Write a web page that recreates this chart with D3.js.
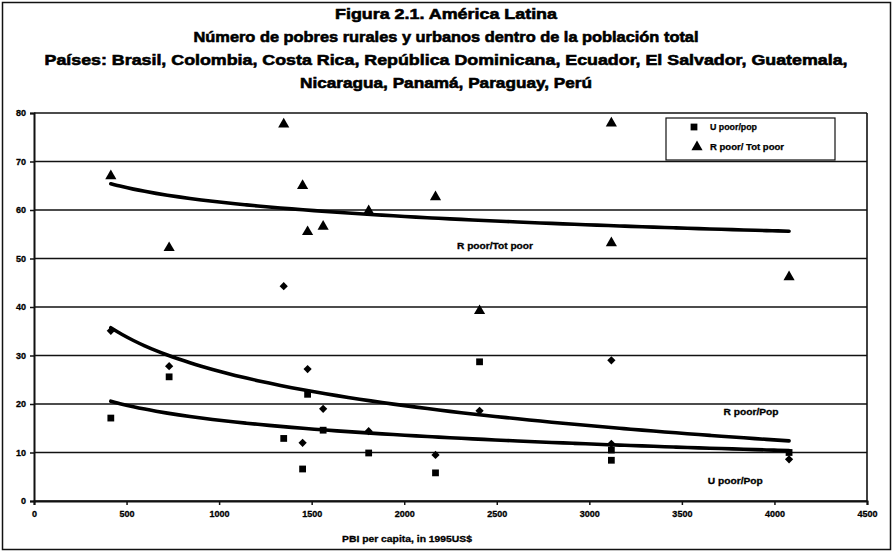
<!DOCTYPE html>
<html>
<head>
<meta charset="utf-8">
<script src="https://cdn.jsdelivr.net/npm/d3@7"></script>
<style>
  body { margin: 0; background: #fff; }
  svg { display: block; font-family: "Liberation Sans", Arial, Helvetica, sans-serif; }
</style>
</head>
<body>
<svg id="chart" width="892" height="551"></svg>
<script>
// Title block
const titleLines = [
  "Figura 2.1. América Latina",
  "Número de pobres rurales y urbanos dentro de la población total",
  "Países: Brasil, Colombia, Costa Rica, República Dominicana, Ecuador, El Salvador, Guatemala,",
  "Nicaragua, Panamá, Paraguay, Perú"
];
const titleWidths = [222, 505, 803, 292];

// GDP per capita (1995 US$) for each country observation
const gdp = [415, 730, 1349, 1451, 1478, 1562, 1808, 2169, 2407, 3119, 3119, 4079];
// Rural poor as % of total poor
const ruralPoorShare = [67.0, 52.2, 77.7, 65.0, 55.5, 56.6, 59.8, 62.7, 39.2, 77.9, 53.2, 46.2];
// Rural poor as % of population
const ruralPoorPop = [35.1, 27.8, 44.3, 12.0, 27.2, 19.0, 14.4, 9.5, 18.6, 29.0, 11.8, 8.6];
// Urban poor as % of population
const urbanPoorPop = [17.1, 25.6, 12.9, 6.6, 22.0, 14.6, 9.9, 5.8, 28.7, 8.4, 10.5, 10.0];

const xTicks = [0, 500, 1000, 1500, 2000, 2500, 3000, 3500, 4000, 4500];
const yTicks = [0, 10, 20, 30, 40, 50, 60, 70, 80];

const svg = d3.select("#chart");
const W = 892, H = 551;
const plot = { left: 34, right: 867, top: 113, bottom: 501 };

// outer frame
svg.append("rect")
  .attr("x", 2.5).attr("y", 2.5).attr("width", W - 4).attr("height", H - 4)
  .attr("fill", "none").attr("stroke", "#111").attr("stroke-width", 1.5);

// title
svg.append("g").selectAll("text").data(titleLines).join("text")
  .attr("x", W / 2)
  .attr("y", (d, i) => 19 + i * 23)
  .attr("text-anchor", "middle")
  .attr("font-size", 15)
  .attr("font-weight", "bold")
  .attr("textLength", (d, i) => titleWidths[i])
  .attr("lengthAdjust", "spacingAndGlyphs")
  .attr("fill", "#000").attr("stroke", "#000").attr("stroke-width", 0.6)
  .text(d => d);

const x = d3.scaleLinear().domain([0, 4500]).range([plot.left, plot.right]);
const y = d3.scaleLinear().domain([0, 80]).range([plot.bottom, plot.top]);

// horizontal gridlines
svg.append("g").selectAll("line").data(yTicks).join("line")
  .attr("x1", plot.left).attr("x2", plot.right)
  .attr("y1", d => y(d)).attr("y2", d => y(d))
  .attr("stroke", "#111").attr("stroke-width", 1.6);

// right border of plot area
svg.append("line")
  .attr("x1", plot.right).attr("x2", plot.right)
  .attr("y1", plot.top).attr("y2", plot.bottom)
  .attr("stroke", "#111").attr("stroke-width", 1.6);

// axes
const yAxis = svg.append("g")
  .attr("transform", `translate(${plot.left},0)`)
  .call(d3.axisLeft(y).tickValues(yTicks).tickSize(4).tickPadding(4));
const xAxis = svg.append("g")
  .attr("transform", `translate(0,${plot.bottom})`)
  .call(d3.axisBottom(x).tickValues(xTicks).tickSize(4).tickPadding(6).tickFormat(d3.format("d")));

[yAxis, xAxis].forEach(g => {
  g.select(".domain").attr("stroke", "#111").attr("stroke-width", 2);
  g.selectAll(".tick line").attr("stroke", "#111").attr("stroke-width", 1.5);
  g.selectAll(".tick text")
    .attr("font-size", 9).attr("font-weight", "bold")
    .attr("font-family", "'Liberation Sans', Arial, sans-serif")
    .attr("fill", "#000").attr("stroke", "#000").attr("stroke-width", 0.3);
});

// axis title
svg.append("text")
  .attr("x", 407).attr("y", 542)
  .attr("text-anchor", "middle")
  .attr("font-size", 9).attr("font-weight", "bold")
  .attr("textLength", 130).attr("lengthAdjust", "spacingAndGlyphs")
  .attr("stroke", "#000").attr("stroke-width", 0.3)
  .text("PBI per capita, in 1995US$");

// logarithmic least-squares trend lines
function logFit(xs, ys) {
  const lx = xs.map(Math.log);
  const mx = d3.mean(lx), my = d3.mean(ys);
  const b = d3.sum(lx, (v, i) => (v - mx) * (ys[i] - my)) / d3.sum(lx, v => (v - mx) * (v - mx));
  const a = my - b * mx;
  return v => a + b * Math.log(v);
}
const xMin = d3.min(gdp), xMax = d3.max(gdp);
const samples = d3.range(0, 61).map(i => xMin + (xMax - xMin) * i / 60);
const line = d3.line().x(d => x(d[0])).y(d => y(d[1])).curve(d3.curveMonotoneX);

[ruralPoorShare, ruralPoorPop, urbanPoorPop].forEach(series => {
  const f = logFit(gdp, series);
  svg.append("path")
    .attr("d", line(samples.map(v => [v, f(v)])))
    .attr("fill", "none").attr("stroke", "#000")
    .attr("stroke-width", 3.6).attr("stroke-linecap", "round");
});

// markers
const tri = d3.symbol().type(d3.symbolTriangle).size(54);
const sq = d3.symbol().type(d3.symbolSquare).size(46);
const dia = d3.symbol().type(d3.symbolSquare).size(34);

function drawSeries(values, sym, rot) {
  svg.append("g").selectAll("path").data(values).join("path")
    .attr("transform", (d, i) => `translate(${x(gdp[i])},${y(d)}) rotate(${rot})`)
    .attr("d", sym).attr("fill", "#000");
}
drawSeries(ruralPoorShare, tri, 0);
drawSeries(ruralPoorPop, dia, 45);
drawSeries(urbanPoorPop, sq, 0);

// trend line captions
const captions = [
  { text: "R poor/Tot poor", gx: 2285, gy: 52.0, w: 76 },
  { text: "R poor/Pop", gx: 3725, gy: 17.7, w: 55 },
  { text: "U poor/Pop", gx: 3640, gy: 3.5, w: 55 }
];
svg.append("g").selectAll("text").data(captions).join("text")
  .attr("x", d => x(d.gx)).attr("y", d => y(d.gy))
  .attr("font-size", 9).attr("font-weight", "bold")
  .attr("textLength", d => d.w).attr("lengthAdjust", "spacingAndGlyphs")
  .attr("stroke", "#000").attr("stroke-width", 0.3)
  .text(d => d.text);

// legend
const legend = svg.append("g");
legend.append("rect")
  .attr("x", 666).attr("y", 118).attr("width", 169).attr("height", 42)
  .attr("fill", "#fff").attr("stroke", "#111").attr("stroke-width", 1.2);
const legendItems = [
  { label: "U poor/pop", sym: sq, w: 47 },
  { label: "R poor/ Tot poor", sym: tri, w: 74 }
];
legendItems.forEach((d, i) => {
  legend.append("path")
    .attr("transform", `translate(${694 + i * 3},${127 + i * 20})`)
    .attr("d", d.sym).attr("fill", "#000");
  legend.append("text")
    .attr("x", 710).attr("y", 130 + i * 20)
    .attr("font-size", 8.5).attr("font-weight", "bold")
    .attr("textLength", d.w).attr("lengthAdjust", "spacingAndGlyphs")
    .attr("stroke", "#000").attr("stroke-width", 0.25)
    .text(d.label);
});
</script>
</body>
</html>
